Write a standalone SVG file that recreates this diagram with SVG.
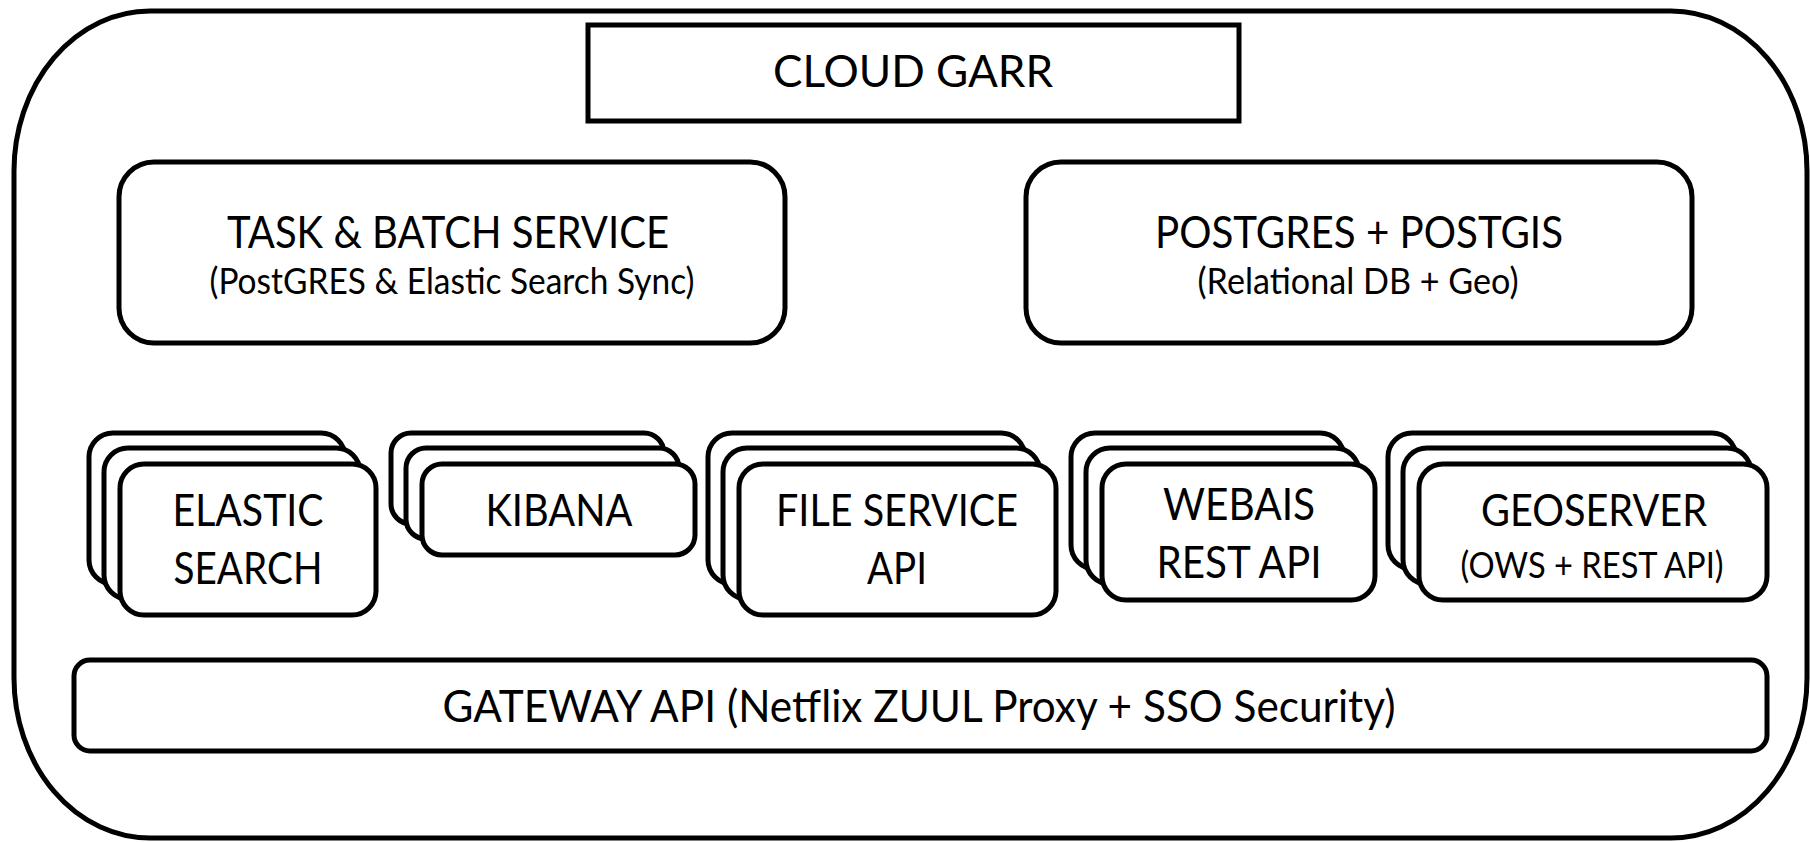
<svg xmlns="http://www.w3.org/2000/svg" width="1810" height="842" viewBox="0 0 1810 842">
<style>
.box{fill:#fff;stroke:#000;stroke-width:5}
.t{font-family:Lato,"Liberation Sans",sans-serif;fill:#000;text-anchor:middle}
.big{font-size:45px}
.sub{font-size:36px}
</style>
<rect width="1810" height="842" fill="#fff"/>
<g id="cloud-garr-frame">
<rect class="box" x="14" y="11" width="1793" height="827" rx="136" ry="160"/>
</g>
<g id="cloud-garr">
<rect class="box" x="588" y="25" width="651" height="96"/>
<text class="t big" x="913" y="87" textLength="280" lengthAdjust="spacingAndGlyphs">CLOUD GARR</text>
</g>
<g id="task-batch">
<rect class="box" x="119" y="162" width="666" height="181" rx="35"/>
<text class="t big" x="448" y="248" textLength="442" lengthAdjust="spacingAndGlyphs">TASK &amp; BATCH SERVICE</text>
<text class="t sub" x="452" y="294" textLength="485" lengthAdjust="spacingAndGlyphs">(PostGRES &amp; Elastic Search Sync)</text>
</g>
<g id="postgres">
<rect class="box" x="1026" y="162" width="666" height="181" rx="35"/>
<text class="t big" x="1359" y="248" textLength="408" lengthAdjust="spacingAndGlyphs">POSTGRES + POSTGIS</text>
<text class="t sub" x="1358" y="294" textLength="321" lengthAdjust="spacingAndGlyphs">(Relational DB + Geo)</text>
</g>
<g id="elastic-search">
<rect class="box" x="89" y="433" width="256" height="151" rx="24"/>
<rect class="box" x="104" y="448" width="256" height="151" rx="24"/>
<rect class="box" x="120" y="464" width="256" height="151" rx="24"/>
<text class="t big" x="248" y="526" textLength="151" lengthAdjust="spacingAndGlyphs">ELASTIC</text>
<text class="t big" x="248" y="584" textLength="149" lengthAdjust="spacingAndGlyphs">SEARCH</text>
</g>
<g id="kibana">
<rect class="box" x="391" y="433" width="273" height="91" rx="20"/>
<rect class="box" x="406" y="448" width="273" height="91" rx="20"/>
<rect class="box" x="422" y="464" width="273" height="91" rx="20"/>
<text class="t big" x="559" y="526" textLength="147" lengthAdjust="spacingAndGlyphs">KIBANA</text>
</g>
<g id="file-service">
<rect class="box" x="708" y="433" width="317" height="151" rx="24"/>
<rect class="box" x="723" y="448" width="317" height="151" rx="24"/>
<rect class="box" x="739" y="464" width="317" height="151" rx="24"/>
<text class="t big" x="897" y="526" textLength="242" lengthAdjust="spacingAndGlyphs">FILE SERVICE</text>
<text class="t big" x="897" y="584" textLength="60" lengthAdjust="spacingAndGlyphs">API</text>
</g>
<g id="webais">
<rect class="box" x="1071" y="433" width="273" height="136" rx="24"/>
<rect class="box" x="1086" y="448" width="273" height="136" rx="24"/>
<rect class="box" x="1102" y="464" width="273" height="136" rx="24"/>
<text class="t big" x="1239" y="520" textLength="152" lengthAdjust="spacingAndGlyphs">WEBAIS</text>
<text class="t big" x="1239" y="578" textLength="165" lengthAdjust="spacingAndGlyphs">REST API</text>
</g>
<g id="geoserver">
<rect class="box" x="1388" y="433" width="348" height="136" rx="24"/>
<rect class="box" x="1403" y="448" width="348" height="136" rx="24"/>
<rect class="box" x="1419" y="464" width="348" height="136" rx="24"/>
<text class="t big" x="1594" y="526" textLength="226" lengthAdjust="spacingAndGlyphs">GEOSERVER</text>
<text class="t sub" x="1592" y="578" font-size="37" textLength="263" lengthAdjust="spacingAndGlyphs">(OWS + REST API)</text>
</g>
<g id="gateway">
<rect class="box" x="74" y="660" width="1693" height="91" rx="16"/>
<text class="t big" x="919" y="722" textLength="953" lengthAdjust="spacingAndGlyphs">GATEWAY API (Netflix ZUUL Proxy + SSO Security)</text>
</g>
<g id="connectors"></g>
</svg>
